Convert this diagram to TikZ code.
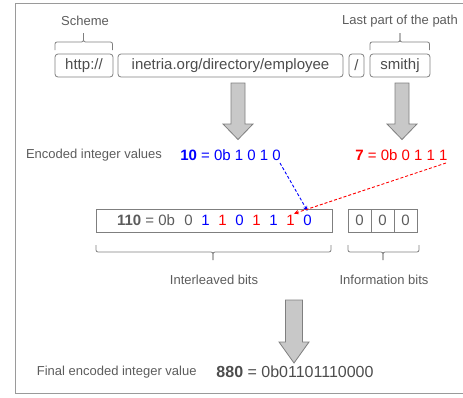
\documentclass[tikz,border=0pt]{standalone}
\usepackage{fontspec}
\setmainfont{Liberation Sans}
\usetikzlibrary{arrows.meta}
\definecolor{txt}{HTML}{5C5C5C}
\definecolor{dtxt}{HTML}{4D4D4D}
\definecolor{edge}{HTML}{7F7F7F}
\definecolor{bl}{HTML}{0000FF}
\definecolor{rd}{HTML}{FF0000}
\definecolor{arrfill}{HTML}{C8C8C8}
\definecolor{framec}{HTML}{9A9A9A}
\begin{document}
\begin{tikzpicture}[x=1pt,y=-1pt,
  lbl/.style={text=txt, font=\fontsize{13}{15}\selectfont, inner sep=0pt},
  bigtxt/.style={font=\fontsize{15}{18}\selectfont, inner sep=0pt},
  urlbox/.style={draw=edge, line width=0.8pt, rounded corners=3pt, text=dtxt,
     font=\fontsize{15}{18}\selectfont, minimum height=23pt, inner sep=0pt},
  cell/.style={draw=edge, line width=0.8pt, text=txt,
     font=\fontsize{15}{18}\selectfont, minimum height=23pt, minimum width=23pt, inner sep=0pt},
  brace/.style={draw=edge, line width=0.8pt, rounded corners=2pt},
  blockarrow/.style={draw=edge, fill=arrfill, line width=0.8pt, line join=miter},
  dashconn/.style={dashed, dash pattern=on 3pt off 2pt, line width=0.9pt, -{Stealth[length=5pt,width=4.5pt]}},
  digit/.style={bigtxt}
]
\useasboundingbox (0,0) rectangle (463,397);
% frame
\draw[framec, line width=1pt] (463,3.5) -- (15.5,3.5) -- (15.5,393.5) -- (463,393.5);

% top labels
\node[lbl] (scheme) at (85,21) {Scheme};
\node[lbl] (lastpart) at (400,21) {Last part of the path};

% braces top
\draw[brace] (55,50) -- (55,42) -- (83.5,42) -- (83.5,33);
\draw[brace] (83.5,33) -- (83.5,42) -- (112.5,42) -- (112.5,50);
\draw[brace] (370,50) -- (370,42) -- (400,42) -- (400,33);
\draw[brace] (400,33) -- (400,42) -- (429.5,42) -- (429.5,50);

% url boxes
\node[urlbox, minimum width=58pt] (http) at (84,65.5) {http://};
\node[urlbox, minimum width=225pt] (host) at (230.5,65.5) {inetria.org/directory/employee};
\node[urlbox, minimum width=15pt] (slash) at (356.5,65.5) {/};
\node[urlbox, minimum width=60pt] (smithj) at (400,65.5) {smithj};

% block arrows
\draw[blockarrow] (231,83) -- (245,83) -- (245,124) -- (253,124) -- (238,139.5) -- (223,124) -- (231,124) -- cycle;
\draw[blockarrow] (395,83) -- (409,83) -- (409,124) -- (417,124) -- (402,139.5) -- (387,124) -- (395,124) -- cycle;

% encoded values
\node[lbl] (enclbl) at (94,155) {Encoded integer values};
\node[bigtxt, text=bl] (bval) at (230.5,155) {\textbf{10} = 0b 1 0 1 0};
\node[bigtxt, text=rd] (rval) at (401.5,155) {\textbf{7} = 0b 0 1 1 1};
\coordinate (bstart) at (280,163);
\coordinate (rstart) at (446,163);

% interleaved box
\node[draw=edge, line width=0.8pt, minimum width=236pt, minimum height=23pt, inner sep=0pt] (bigbox) at (214,220.5) {};
\node[bigtxt, text=txt] (v110) at (146,220.5) {\textbf{110} = 0b};
\node[digit, text=txt] (d1) at (188.5,220.5) {0};
\node[digit, text=bl] (d2) at (205.5,220.5) {1};
\node[digit, text=rd] (d3) at (222.5,220.5) {1};
\node[digit, text=bl] (d4) at (239.5,220.5) {0};
\node[digit, text=rd] (d5) at (256.5,220.5) {1};
\node[digit, text=bl] (d6) at (273.5,220.5) {1};
\node[digit, text=rd] (d7) at (290.5,220.5) {1};
\node[digit, text=bl] (d8) at (307.5,220.5) {0};

% info cells
\node[cell] (c1) at (359.5,220.5) {0};
\node[cell] (c2) at (382.5,220.5) {0};
\node[cell] (c3) at (405.5,220.5) {0};

% dashed connectors
\draw[dashconn, bl] (bstart) -- ([yshift=4pt]d8.north);
\draw[dashconn, rd] (rstart) -- ([shift={(-1pt,1.5pt)}]d7.north east);

% bottom braces
\draw[brace] (96,245) -- (96,252) -- (213,252) -- (213,260);
\draw[brace] (213,260) -- (213,252) -- (331,252) -- (331,245);
\draw[brace] (348,245) -- (348,252) -- (383,252) -- (383,260);
\draw[brace] (383,260) -- (383,252) -- (419,252) -- (419,245);

\node[lbl] (ilbits) at (214,280) {Interleaved bits};
\node[lbl] (infobits) at (384,280) {Information bits};

% bottom arrow
\draw[blockarrow] (285.5,300) -- (302.5,300) -- (302.5,342) -- (309,342) -- (294,363) -- (279,342) -- (285.5,342) -- cycle;

\node[lbl] (finallbl) at (116.7,372) {Final encoded integer value};
\node[font=\fontsize{16}{19}\selectfont, text=dtxt, inner sep=0pt] (final) at (295,372) {\textbf{880} = 0b01101110000};
\end{tikzpicture}
\end{document}
